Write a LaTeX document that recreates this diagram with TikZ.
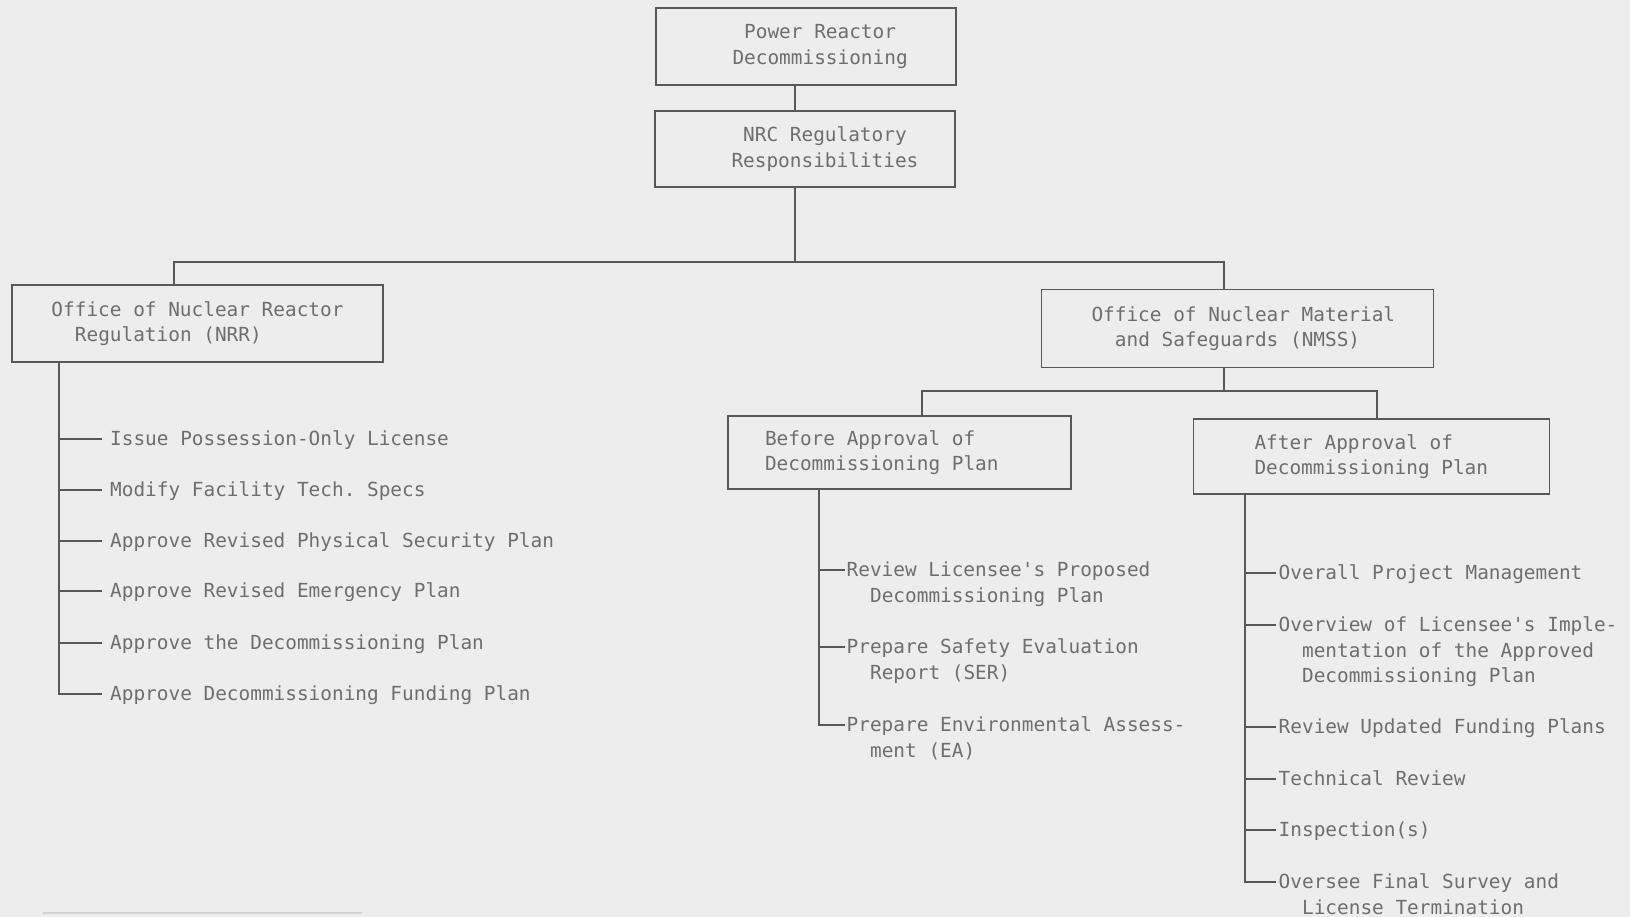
\documentclass[tikz,border=0pt]{standalone}
\usepackage{fontspec}
\setmonofont{DejaVu Sans Mono}
\definecolor{bg}{HTML}{EDEDED}
\definecolor{ink}{HTML}{585858}
\definecolor{txt}{HTML}{6E6E6E}
\definecolor{faint}{HTML}{D4D4D4}
\newcommand\myind{\hspace*{23.4pt}}
\newcommand\bxl[2]{\mbox{\spaceskip=0pt\relax\xspaceskip=0pt\relax\hspace*{#1}#2}}
\begin{document}
\begin{tikzpicture}[x=1pt,y=-1pt,
  font=\fontsize{19.4}{25.5}\selectfont\ttfamily,
  box/.style={draw=ink, line width=1.7pt, text=txt, align=left, inner xsep=0pt, inner ysep=0pt},
  conn/.style={draw=ink, line width=1.6pt},
  itm/.style={anchor=north west, yshift=8.3pt, inner ysep=0pt, text=txt, align=left}]
\fill[bg] (0,0) rectangle (1630,917);
\useasboundingbox (0,0) rectangle (1630,917);

% boxes
\node[box, text width=300pt, minimum height=77pt] (pr) at (806,46.5)
  {\bxl{88.2pt}{Power Reactor}\\\bxl{76.5pt}{Decommissioning}};
\node[box, text width=300pt, minimum height=76pt] (nrc) at (805,149)
  {\bxl{88.2pt}{NRC Regulatory}\\\bxl{76.5pt}{Responsibilities}};
\node[box, text width=371pt, minimum height=77pt] (nrr) at (197.5,323.5)
  {\bxl{39.5pt}{Office of Nuclear Reactor}\\\bxl{62.9pt}{Regulation (NRR)}};
\node[box, text width=392pt, minimum height=78pt] (nmss) at (1237.5,328.5)
  {\bxl{50pt}{Office of Nuclear Material}\\\bxl{73.4pt}{and Safeguards (NMSS)}};
\node[box, text width=343pt, minimum height=73pt] (before) at (899.5,452.5)
  {\bxl{37pt}{Before Approval of}\\\bxl{37pt}{Decommissioning Plan}};
\node[box, text width=356pt, minimum height=75pt] (after) at (1371.5,456.5)
  {\bxl{61pt}{After Approval of}\\\bxl{61pt}{Decommissioning Plan}};

% tree connectors
\coordinate (cx) at (795,0);
\coordinate (h1) at (795,262);
\coordinate (dL) at (174,0);
\coordinate (dR) at (1224,0);
\draw[conn] (pr.south -| cx) -- (nrc.north -| cx);
\draw[conn] (nrc.south -| cx) -- (h1);
\draw[conn] (nrr.north -| dL) |- (h1) -| (nmss.north -| dR);

\coordinate (h2) at (1224,391);
\coordinate (dB) at (922,0);
\coordinate (dA) at (1377,0);
\draw[conn] (nmss.south -| h2) -- (h2);
\draw[conn] (before.north -| dB) |- (h2) -| (after.north -| dA);

% NRR list
\coordinate (sL) at (59,0);
\begin{scope}[every node/.append style={itm, inner xsep=8pt}]
\node (n1) at (102,439) {Issue Possession-Only License};
\node (n2) at (102,490) {Modify Facility Tech. Specs};
\node (n3) at (102,541) {Approve Revised Physical Security Plan};
\node (n4) at (102,591) {Approve Revised Emergency Plan};
\node (n5) at (102,643) {Approve the Decommissioning Plan};
\node (n6) at (102,694) {Approve Decommissioning Funding Plan};
\end{scope}
\foreach \n in {n1,n2,n3,n4,n5,n6} {\coordinate (\n t) at ([yshift=-8.3pt]\n.north west);}
\draw[conn] (nrr.south -| sL) |- (n6t);
\foreach \n in {n1,n2,n3,n4,n5} {\draw[conn] (\n t -| sL) -- (\n t);}

% Before list
\coordinate (sB) at (819,0);
\begin{scope}[every node/.append style={itm, inner xsep=2pt}]
\node (b1) at (844.5,570) {Review Licensee's Proposed\\\myind Decommissioning Plan};
\node (b2) at (844.5,647) {Prepare Safety Evaluation\\\myind Report (SER)};
\node (b3) at (844.5,725) {Prepare Environmental Assess-\\\myind ment (EA)};
\end{scope}
\foreach \n in {b1,b2,b3} {\coordinate (\n t) at ([yshift=-8.3pt]\n.north west);}
\draw[conn] (before.south -| sB) |- (b3t);
\foreach \n in {b1,b2} {\draw[conn] (\n t -| sB) -- (\n t);}

% After list
\coordinate (sA) at (1245,0);
\begin{scope}[every node/.append style={itm, inner xsep=2.5pt}]
\node (a1) at (1276,573) {Overall Project Management};
\node (a2) at (1276,625) {Overview of Licensee's Imple-\\\myind mentation of the Approved\\\myind Decommissioning Plan};
\node (a3) at (1276,727) {Review Updated Funding Plans};
\node (a4) at (1276,779) {Technical Review};
\node (a5) at (1276,830) {Inspection(s)};
\node (a6) at (1276,882) {Oversee Final Survey and\\\myind License Termination};
\end{scope}
\foreach \n in {a1,a2,a3,a4,a5,a6} {\coordinate (\n t) at ([yshift=-8.3pt]\n.north west);}
\draw[conn] (after.south -| sA) |- (a6t);
\foreach \n in {a1,a2,a3,a4,a5} {\draw[conn] (\n t -| sA) -- (\n t);}

% footnote rule
\draw[faint, line width=1.5pt] (43,913) -- (362,913);
\end{tikzpicture}
\end{document}
